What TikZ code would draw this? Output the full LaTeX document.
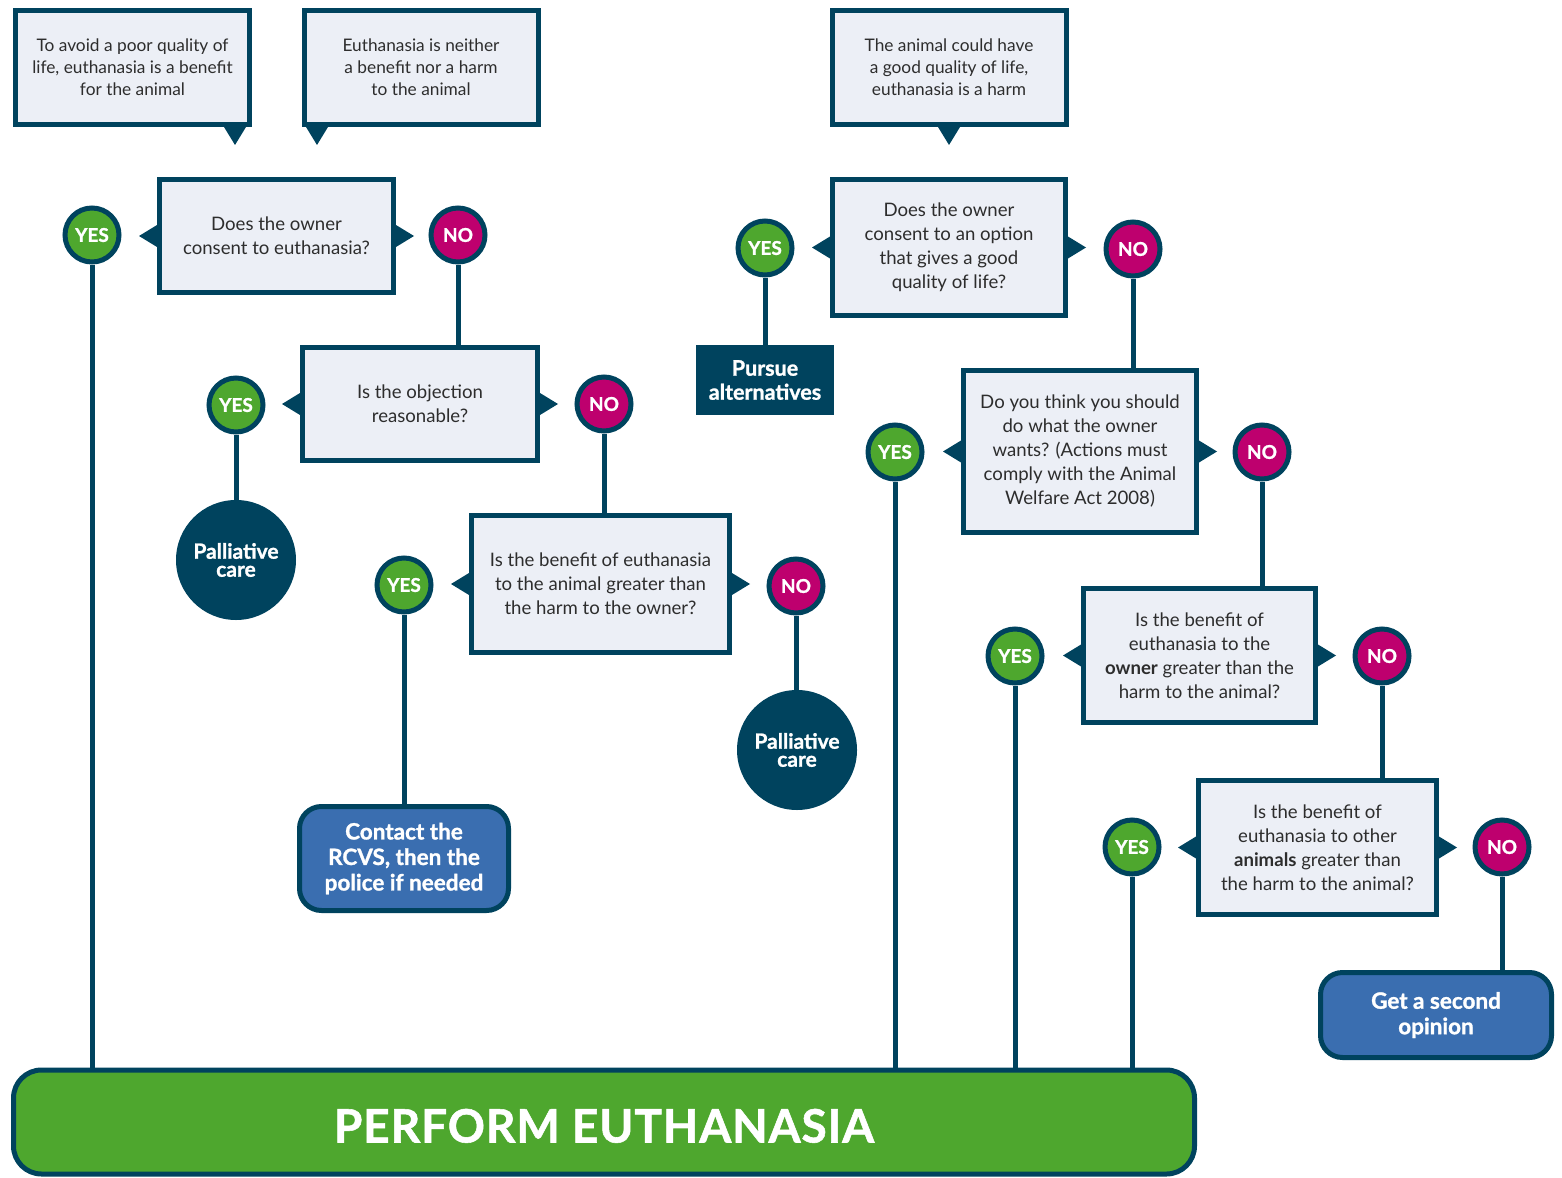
\documentclass[tikz,border=0pt]{standalone}
\usepackage{fontspec}
\setmainfont{Lato}
\newfontfamily\heavyfont[FakeBold=1.2]{Lato Bold}
\definecolor{dk}{RGB}{0,67,94}
\definecolor{boxfill}{RGB}{236,239,246}
\definecolor{yesg}{RGB}{78,167,46}
\definecolor{nom}{RGB}{190,0,110}
\definecolor{bluebox}{RGB}{58,110,176}
\definecolor{txt}{RGB}{45,45,45}
\newcommand\ptrleft[1]{\fill[dk] ([yshift=11pt]#1.west) -- ([xshift=-18pt]#1.west) -- ([yshift=-11pt]#1.west) -- cycle;}
\newcommand\ptrright[1]{\fill[dk] ([yshift=11pt]#1.east) -- ([xshift=18pt]#1.east) -- ([yshift=-11pt]#1.east) -- cycle;}
\newcommand\ptrdown[2]{\fill[dk] ([xshift=#2pt-11pt]#1.south) -- ([xshift=#2pt,yshift=-18pt]#1.south) -- ([xshift=#2pt+11pt]#1.south) -- cycle;}
\tikzset{
  sbox/.style={draw=dk, line width=5pt, fill=boxfill, align=center, text=txt, inner sep=0pt,
    minimum width=234pt, minimum height=114pt, font=\fontsize{17.3}{22}\selectfont},
  qbox/.style={draw=dk, line width=5pt, fill=boxfill, align=center, text=txt, inner sep=0pt,
    font=\fontsize{18.6}{24}\selectfont},
  yesc/.style={circle, draw=dk, line width=5pt, fill=yesg, minimum size=54pt, inner sep=0pt,
    text=white, font=\fontsize{19}{19}\heavyfont},
  noc/.style={yesc, fill=nom},
  conn/.style={draw=dk, line width=5pt},
  pall/.style={circle, fill=dk, minimum size=120pt, inner sep=0pt, align=center, text=white,
    font=\fontsize{21}{19}\heavyfont},
  blueb/.style={draw=dk, line width=5pt, fill=bluebox, rounded corners=22pt, align=center, text=white,
    inner sep=0pt, font=\fontsize{22.5}{25.5}\heavyfont},
}
\begin{document}
\begin{tikzpicture}[x=1pt,y=-1pt]
\useasboundingbox (0,0) rectangle (1562,1177);
% top statement boxes
\node[sbox] (sA) at (132.5,67.5) {To avoid a poor quality of\\life, euthanasia is a benefit\\for the animal};
\node[sbox] (sB) at (421,67.5) {Euthanasia is neither\\a benefit nor a harm\\to the animal};
\node[sbox] (sC) at (949,67.5) {The animal could have\\a good quality of life,\\euthanasia is a harm};
\ptrdown{sA}{102.5}
\ptrdown{sB}{-104}
\ptrdown{sC}{0}
% question boxes
\node[qbox, minimum width=234pt, minimum height=113pt] (q1) at (276.5,236) {Does the owner\\consent to euthanasia?};
\node[qbox, minimum width=235pt, minimum height=113pt] (q2) at (420,404) {Is the objection\\reasonable?};
\node[qbox, minimum width=258pt, minimum height=137pt] (q3) at (600.5,584) {Is the benefit of euthanasia\\to the animal greater than\\the harm to the owner?};
\node[qbox, minimum width=233pt, minimum height=136pt] (q4) at (949,247.5) {Does the owner\\consent to an option\\that gives a good\\quality of life?};
\node[qbox, minimum width=233pt, minimum height=162pt] (q5) at (1080,451.5) {Do you think you should\\do what the owner\\wants? (Actions must\\comply with the Animal\\Welfare Act 2008)};
\node[qbox, minimum width=232pt, minimum height=134pt] (q6) at (1199.5,655.5) {Is the benefit of\\euthanasia to the\\\textbf{owner} greater than the\\harm to the animal?};
\node[qbox, minimum width=238pt, minimum height=134pt] (q7) at (1317.5,847.5) {Is the benefit of\\euthanasia to other\\\textbf{animals} greater than\\the harm to the animal?};
\foreach \q in {q1,q2,q3,q4,q5,q6,q7}{\ptrleft{\q}\ptrright{\q}}
% yes / no circles
\node[yesc] (y1) at (92,235) {YES};
\node[noc] (n1) at (458,235) {NO};
\node[yesc] (y2) at (236,405) {YES};
\node[noc] (n2) at (604,404) {NO};
\node[yesc] (y3) at (404,585) {YES};
\node[noc] (n3) at (796,586) {NO};
\node[yesc] (y4) at (765,248) {YES};
\node[noc] (n4) at (1133,249) {NO};
\node[yesc] (y5) at (895,452) {YES};
\node[noc] (n5) at (1262,452) {NO};
\node[yesc] (y6) at (1015,656) {YES};
\node[noc] (n6) at (1382,656) {NO};
\node[yesc] (y7) at (1132,847) {YES};
\node[noc] (n7) at (1502,847) {NO};
% outcomes
\node[pall] (p1) at (236,560) {Palliative\\[-1pt]care};
\node[pall] (p2) at (797,750) {Palliative\\[-1pt]care};
\node[blueb, minimum width=209pt, minimum height=104pt] (rcvs) at (404,858.5) {Contact the\\RCVS, then the\\police if needed};
\node[blueb, minimum width=231pt, minimum height=85pt] (second) at (1436,1015) {Get a second\\opinion};
\node[fill=dk, minimum width=138pt, minimum height=70pt, inner sep=0pt, align=center, text=white,
  font=\fontsize{21.5}{24}\heavyfont] (pursue) at (765,380) {Pursue\\alternatives};
\node[draw=dk, line width=5pt, fill=yesg, rounded corners=28pt, minimum width=1181pt, minimum height=104pt,
  inner sep=0pt, text height=41pt, text depth=0pt, text=white,
  font=\fontsize{46}{46}\heavyfont\addfontfeatures{LetterSpace=2}] (bar) at (604,1122) {PERFORM EUTHANASIA};
% connectors
\draw[conn] (y1.south) -- (y1 |- bar.north);
\draw[conn] (n1.south) -- (n1 |- q2.north);
\draw[conn] (y2.south) -- (p1.north);
\draw[conn] (n2.south) -- (n2 |- q3.north);
\draw[conn] (y3.south) -- (y3 |- rcvs.north);
\draw[conn] (n3.south) -- (n3 |- p2.north);
\draw[conn] (y4.south) -- (pursue.north);
\draw[conn] (n4.south) -- (n4 |- q5.north);
\draw[conn] (y5.south) -- (y5 |- bar.north);
\draw[conn] (n5.south) -- (n5 |- q6.north);
\draw[conn] (y6.south) -- (y6 |- bar.north);
\draw[conn] (n6.south) -- (n6 |- q7.north);
\draw[conn] (y7.south) -- (y7 |- bar.north);
\draw[conn] (n7.south) -- (n7 |- second.north);
\end{tikzpicture}
\end{document}
